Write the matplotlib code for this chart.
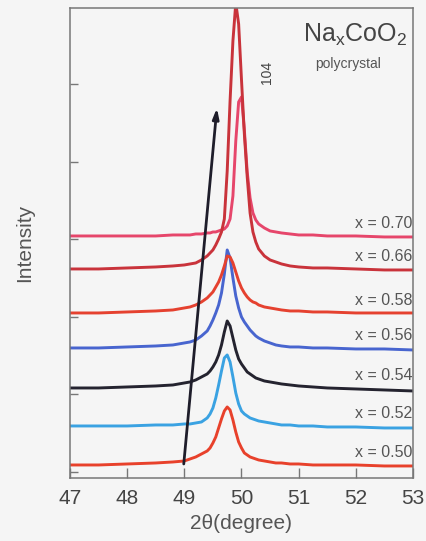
import numpy as np
import matplotlib
matplotlib.use("Agg")
import matplotlib.pyplot as plt

plt.rcParams['font.family'] = ['Liberation Sans', 'DejaVu Sans']
plt.rcParams['mathtext.default'] = 'regular'

# 2theta grid (degree)
two_theta = [47.0, 47.5, 48.0, 48.5, 48.8, 49.0, 49.1, 49.2, 49.3, 49.4,
             49.45, 49.5, 49.55, 49.6, 49.65, 49.7, 49.75, 49.8, 49.85, 49.9,
             49.95, 50.0, 50.05, 50.1, 50.15, 50.2, 50.25, 50.3, 50.4, 50.5,
             50.6, 50.7, 50.85, 51.0, 51.25, 51.5, 52.0, 52.5, 53.0]

# (104) reflection intensity above background, a.u.
I_050 = [0, 0, 1, 2, 3, 4, 6, 8, 11, 14, 17, 22, 28, 37, 46, 54, 58, 55, 45, 33,
         23, 17, 12, 10, 8, 7, 6, 5, 4, 3, 2, 2, 1, 1, 0, 0, 0, -1, -1]
I_052 = [0, 0, 0, 1, 1, 2, 2, 3, 4, 8, 12, 18, 28, 41, 55, 68, 71, 64, 49, 33,
         22, 15, 12, 10, 8, 7, 6, 5, 4, 3, 2, 1, 1, 0, 0, -1, -1, -2, -2]
I_054 = [0, 0, 1, 2, 3, 5, 6, 8, 11, 14, 17, 21, 26, 33, 43, 56, 67, 62, 50, 38,
         29, 24, 20, 16, 14, 12, 10, 9, 7, 6, 5, 4, 3, 2, 1, 0, -1, -2, -3]
I_056 = [0, 0, 1, 2, 3, 5, 6, 8, 12, 17, 22, 28, 35, 43, 55, 74, 98, 90, 70, 52,
         40, 31, 26, 22, 18, 15, 12, 10, 7, 5, 3, 2, 1, 1, 0, 0, -1, -1, -2]
I_058 = [0, 0, 1, 2, 3, 5, 6, 8, 11, 15, 18, 21, 26, 31, 38, 47, 57, 56, 50, 41,
         32, 25, 20, 16, 13, 11, 10, 8, 6, 5, 4, 3, 2, 2, 1, 1, 0, 0, 0]
I_066 = [0, 0, 1, 2, 3, 4, 5, 6, 9, 13, 16, 19, 24, 30, 37, 50, 98, 168, 228, 266,
         245, 189, 135, 92, 56, 37, 27, 20, 13, 9, 7, 5, 3, 2, 1, 1, 0, -1, -1]
I_070 = [0, 0, 0, 0, 1, 1, 1, 2, 2, 3, 3, 4, 4, 5, 6, 7, 10, 17, 40, 95,
         134, 139, 106, 64, 38, 23, 16, 12, 8, 5, 4, 3, 2, 1, 1, 0, 0, -1, -1]

compositions = ["0.70", "0.66", "0.56", "0.58", "0.54", "0.52", "0.50"]
spectra = [I_070, I_066, I_056, I_058, I_054, I_052, I_050]
offsets = [236, 203, 124, 159, 84, 46, 7]
colors = ["#e6466b", "#c9333b", "#4865cf", "#e5412f", "#24232f", "#3aa2e2", "#e8412b"]

fig = plt.figure(figsize=(4.26, 5.41), dpi=100, facecolor="#f5f5f5")
ax = fig.add_axes([0.1643, 0.1165, 0.8052, 0.8688], facecolor="#f5f5f5")

x = np.array(two_theta)
for comp, inten, off, c in zip(compositions, spectra, offsets, colors):
    ax.plot(x, np.array(inten) + off, color=c, lw=2.1, solid_joinstyle="round")
    ax.text(52.99, off + 12, "x = " + comp, ha="right", va="center",
            fontsize=11.5, color="#555555")

# peak shift with Na content
ax.annotate("", xy=(49.57, 364), xytext=(48.99, 8),
            arrowprops=dict(arrowstyle="-|>,head_length=0.6,head_width=0.18",
                            color="#1e1d2a", lw=2.0, shrinkA=0, shrinkB=0))

ax.text(50.45, 400, "104", rotation=90, ha="center", va="center",
        fontsize=10, color="#444444")
ax.text(0.831, 0.943, r"Na$_x$CoO$_2$", transform=ax.transAxes, ha="center",
        va="center", fontsize=18, color="#444444")
ax.text(0.812, 0.881, "polycrystal", transform=ax.transAxes, ha="center",
        va="center", fontsize=10, color="#555555")

ax.set_xlim(47, 53)
ax.set_ylim(-6, 464)
ax.set_xticks(range(47, 54))
ax.set_yticks(np.arange(0, 400, 77.5))
ax.set_yticklabels([])
ax.tick_params(axis="x", direction="in", length=7, width=1.0, color="#777777",
               labelsize=15, labelcolor="#444444", pad=8)
ax.tick_params(axis="y", direction="in", length=6, width=1.0, color="#777777")
for s in ax.spines.values():
    s.set_color("#777777")
    s.set_linewidth(1.1)

ax.set_xlabel("2θ(degree)", fontsize=15, color="#555555", labelpad=4)
ax.set_ylabel("Intensity", fontsize=15, color="#555555", labelpad=22)

fig.savefig("out.png", dpi=100, facecolor=fig.get_facecolor())
